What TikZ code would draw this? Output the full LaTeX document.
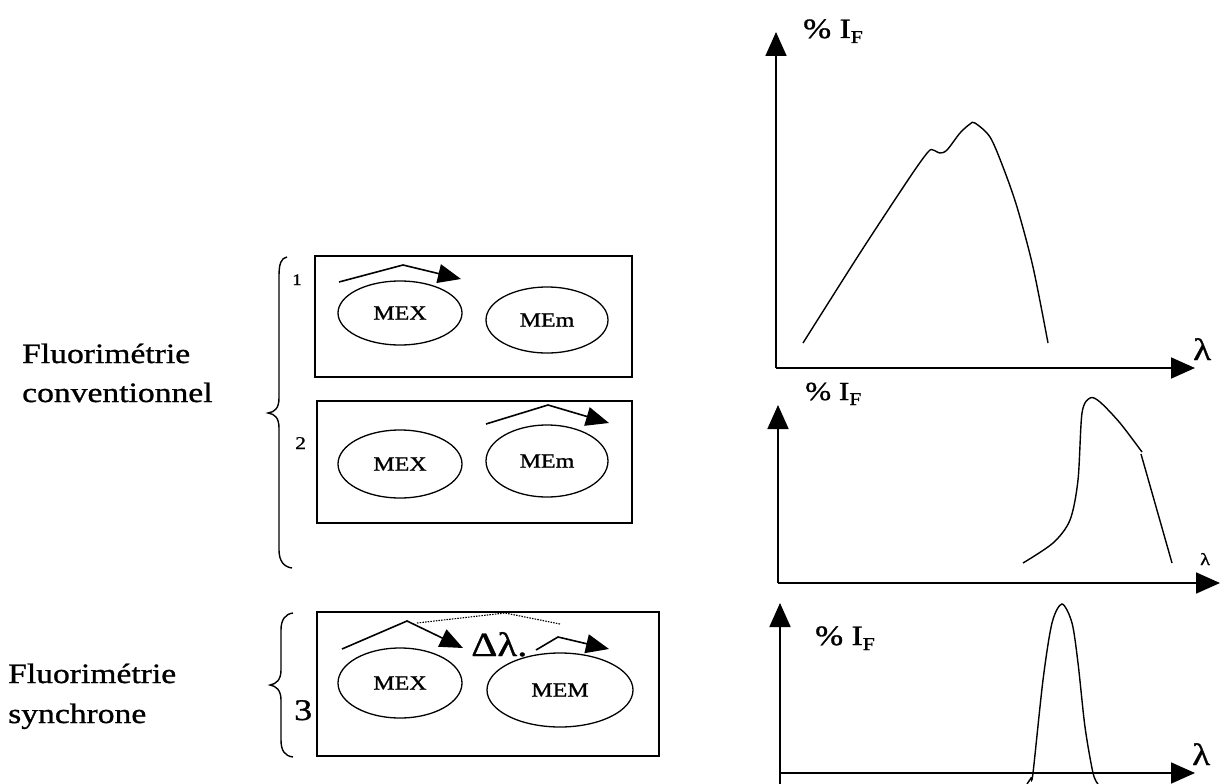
\documentclass[tikz,border=0pt]{standalone}
\usepackage{fontspec}
\setmainfont{Liberation Serif}[FakeStretch=1.2,FakeBold=1]
\usetikzlibrary{arrows.meta,shapes.geometric,positioning}
\newcommand{\fs}[1]{\fontsize{#1}{#1}\selectfont}
\newcommand{\pIF}{\%\ I\raisebox{-5pt}{\fs{18}F}}
\tikzset{el/.style={draw,ellipse,line width=1.3pt,inner sep=0pt,font=\fs{20}},
 frm/.style={draw,line width=1.6pt},
 ax/.style={line width=1.8pt,-{Triangle[length=24pt,width=21pt]}},
 beam/.style={line width=1.6pt,-{Triangle[length=23pt,width=19pt]}},
 spec/.style={line width=1.4pt},
 brc/.style={line width=1.4pt},
 lbl/.style={anchor=base west,inner sep=0pt}}

\begin{document}
\begin{tikzpicture}[x=1pt,y=-1pt]
\useasboundingbox (0,0) rectangle (1224,784);
% labels on the left
\node[lbl,font=\fs{28}](flu1) at (22,363){Fluorimétrie};
\node[lbl,font=\fs{28}](conv) at (22,402){conventionnel};
\node[lbl,font=\fs{28}](flu2) at (8,683){Fluorimétrie};
\node[lbl,font=\fs{28}](sync) at (8,723){synchrone};
% braces
\draw[brc](287,257) .. controls (281,258) and (279,264) .. (279,276) -- (279,398)
 .. controls (279,408) and (275,412) .. (268,413) .. controls (275,414) and (279,418) .. (279,428)
 -- (279,550) .. controls (279,561) and (284,567) .. (292,568);
\draw[brc](293,613) .. controls (285,614) and (281,620) .. (281,630) -- (281,670)
 .. controls (281,680) and (276,684) .. (270,685) .. controls (276,686) and (281,690) .. (281,700)
 -- (281,740) .. controls (281,751) and (285,756) .. (293,757);
\node[lbl,font=\fs{16}](n1) at (292,285){1};
\node[lbl,font=\fs{18}](n2) at (295,449){2};
\node[lbl,font=\fs{30}](n3) at (294,720){3};
% box 1
\draw[frm](315,256) rectangle (632,377);
\node[el,minimum width=124pt,minimum height=64pt](mex1) at (400,313){MEX};
\node[el,minimum width=122pt,minimum height=66pt](mem1) at (547,320){MEm};
\coordinate (a1) at (339,282);\coordinate (p1) at (403,265);\coordinate (t1) at (461,279);
\draw[beam](a1)--(p1)--(t1);
% box 2
\draw[frm](317,401) rectangle (632,523);
\node[el,minimum width=124pt,minimum height=68pt](mex2) at (400,464){MEX};
\node[el,minimum width=122pt,minimum height=72pt](mem2) at (547,461){MEm};
\coordinate (a2) at (486,424);\coordinate (p2) at (548,405);\coordinate (t2) at (609,423);
\draw[beam](a2)--(p2)--(t2);
% box 3
\draw[frm](317,612) rectangle (659,756);
\node[el,minimum width=124pt,minimum height=70pt](mex3) at (400,683){MEX};
\node[el,minimum width=146pt,minimum height=74pt](mem3) at (560,690){MEM};
\coordinate (a3) at (342,649);\coordinate (p3) at (407,621);\coordinate (t3) at (463,648);
\draw[beam](a3)--(p3)--(t3);
\coordinate (a4) at (536,650);\coordinate (p4) at (558,637);\coordinate (t4) at (609,649);
\draw[beam](a4)--(p4)--(t4);
\draw[line width=1.1pt,dash pattern=on 1.5pt off 1.2pt](417,623)--(505,613)--(560,624);
\node[lbl,font=\fs{34}](dl) at (471,656){Δλ.};
% spectrum 1
\coordinate (o1) at (776,368);\coordinate (y1) at (776,32);\coordinate (x1) at (1195,368);
\draw[ax](o1)--(y1);\draw[ax](o1)--(x1);
\node[lbl,font=\fs{28}](if1) at (803,38){\pIF};
\node[lbl,font=\fs{31}](l1) at (1193,360){λ};
\draw[spec] plot[smooth,tension=.5] coordinates {(803,343) (860,253) (910,177) (928,152)
 (933,150) (940,153) (947,150) (960,133) (970,124) (975,123) (990,137) (1003,167) (1017,207)
 (1033,267) (1048,343)};
% spectrum 2
\coordinate (o2) at (778,583);\coordinate (y2) at (778,405);\coordinate (x2) at (1220,583);
\draw[ax](o2)--(y2);\draw[ax](o2)--(x2);
\node[lbl,font=\fs{26}](if2) at (805,400){\pIF};
\node[lbl,font=\fs{17}](l2) at (1200,565){λ};
\draw[spec] plot[smooth,tension=.5] coordinates {(1023,563) (1053,543) (1070,520) (1078,480)
 (1082,413) (1090,398) (1100,402) (1120,423) (1142,452)};
\draw[spec](1141,454)--(1172,563);
% spectrum 3
\coordinate (o3) at (780,773);\coordinate (b3) at (780,784);\coordinate (y3) at (780,603);
\coordinate (x3) at (1195,773);
\draw[ax](b3)--(y3);\draw[ax](o3)--(x3);
\node[lbl,font=\fs{28}](if3) at (815,645){\pIF};
\node[lbl,font=\fs{31}](l3) at (1192,765){λ};
\draw[spec] plot[smooth,tension=.5] coordinates {(1027,784) (1031,778) (1033,773) (1043,680)
 (1052,623) (1062,604) (1072,623) (1078,663) (1085,727) (1093,773) (1098,784)};
\end{tikzpicture}
\end{document}
